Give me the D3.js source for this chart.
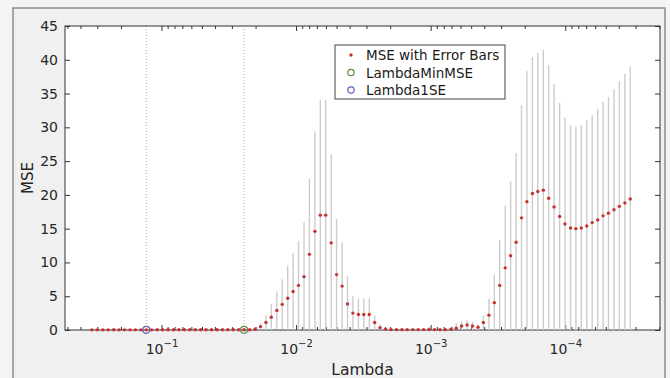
<!DOCTYPE html>
<html>
<head>
<meta charset="utf-8">
<title>Lasso cross-validated MSE</title>
<script src="https://d3js.org/d3.v7.min.js"></script>
<style>
  body { margin: 0; background: #f4f4f4; }
  svg { display: block; font-family: "DejaVu Sans", sans-serif; }
</style>
</head>
<body>
<svg id="chart" width="670" height="378"></svg>
<script>

// log10(lambda) for the 100 fitted lambdas, largest first
var lambdaExp = [
  -0.483,-0.523,-0.564,-0.604,-0.645,-0.685,-0.725,-0.766,-0.806,-0.847,
  -0.887,-0.927,-0.968,-1.008,-1.049,-1.089,-1.129,-1.170,-1.210,-1.251,
  -1.291,-1.331,-1.372,-1.412,-1.453,-1.493,-1.533,-1.574,-1.614,-1.655,
  -1.695,-1.736,-1.776,-1.816,-1.857,-1.897,-1.938,-1.978,-2.018,-2.059,
  -2.099,-2.140,-2.180,-2.220,-2.261,-2.301,-2.342,-2.382,-2.422,-2.463,
  -2.503,-2.544,-2.584,-2.624,-2.665,-2.705,-2.746,-2.786,-2.826,-2.867,
  -2.907,-2.948,-2.988,-3.028,-3.069,-3.109,-3.150,-3.190,-3.230,-3.271,
  -3.311,-3.352,-3.392,-3.433,-3.473,-3.513,-3.554,-3.594,-3.635,-3.675,
  -3.715,-3.756,-3.796,-3.837,-3.877,-3.917,-3.958,-3.998,-4.039,-4.079,
  -4.119,-4.160,-4.200,-4.241,-4.281,-4.321,-4.362,-4.402,-4.443,-4.483
];

var mseValues = [
  0.02,0.02,0.02,0.02,0.03,0.02,0.02,0.02,0.02,0.02,
  0.02,0.02,0.03,0.03,0.03,0.03,0.03,0.03,0.03,0.03,
  0.03,0.03,0.03,0.03,0.03,0.03,0.03,0.03,0.03,0.04,
  0.1,0.5,1.1,1.9,2.9,3.8,4.7,5.7,6.6,7.9,
  11.2,14.6,17.0,17.0,12.9,8.2,6.5,3.85,2.5,2.3,
  2.3,2.3,1.1,0.35,0.15,0.06,0.05,0.05,0.05,0.05,
  0.05,0.06,0.08,0.06,0.05,0.05,0.1,0.25,0.6,0.75,
  0.6,0.4,1.1,2.2,4.05,6.6,9.2,11.0,13.0,16.6,
  19.0,20.2,20.5,20.7,19.5,18.2,16.8,15.7,15.1,15.0,
  15.1,15.4,15.9,16.3,16.9,17.3,17.8,18.3,18.8,19.4
];

var seValues = [
  0.03,0.03,0.03,0.03,0.04,0.03,0.03,0.03,0.03,0.03,
  0.03,0.03,0.04,0.04,0.04,0.04,0.04,0.04,0.04,0.04,
  0.04,0.04,0.04,0.04,0.04,0.04,0.04,0.04,0.04,0.05,
  0.2,0.5,1.1,1.9,2.8,3.7,4.8,5.7,6.6,8.0,
  11.2,14.8,17.1,17.1,13.1,8.2,6.5,4.1,2.5,2.4,
  2.4,2.4,1.1,0.45,0.15,0.08,0.07,0.07,0.07,0.07,
  0.07,0.08,0.4,0.08,0.07,0.07,0.15,0.75,0.7,0.65,
  0.6,0.5,1.0,2.4,4.2,6.7,9.2,11.0,13.2,16.7,
  19.3,20.2,20.5,20.8,19.7,18.2,16.8,15.8,15.2,15.1,
  15.2,15.6,15.9,16.4,16.9,17.2,17.8,18.5,19.1,19.6
];

var minMseIndex = 28;   // LambdaMinMSE
var oneSeIndex = 10;    // Lambda1SE

var yTicks = [0, 5, 10, 15, 20, 25, 30, 35, 40, 45];
var xTickExps = [-1, -2, -3, -4];
var legendLabels = ["MSE with Error Bars", "LambdaMinMSE", "Lambda1SE"];

var redCol = "#c8312f", greenCol = "#5b8a4a", blueCol = "#6a5cb8", barCol = "#cccccc";

var svg = d3.select("#chart");
var pLeft = 65, pRight = 660, pTop = 26, pBottom = 330;

var x = d3.scaleLog().domain([Math.pow(10, -0.283), Math.pow(10, -4.704)]).range([pLeft, pRight]);
var y = d3.scaleLinear().domain([0, 45]).range([pBottom, pTop]);

var pts = lambdaExp.map(function(e, i) {
  return { lam: Math.pow(10, e), mse: mseValues[i], se: seValues[i] };
});

// figure frame
svg.append("rect").attr("x", 13).attr("y", 8).attr("width", 652).attr("height", 380)
  .attr("fill", "#f0f0f0").attr("stroke", "#8c8c8c").attr("stroke-width", 1.5);

// plot area
svg.append("rect").attr("x", pLeft).attr("y", pTop).attr("width", pRight - pLeft).attr("height", pBottom - pTop)
  .attr("fill", "#fff");

// minor log ticks
var minor = [];
for (var k = -5; k <= -1; k++) {
  for (var m = 2; m <= 9; m++) {
    var v = m * Math.pow(10, k);
    if (v < x.domain()[0] && v > x.domain()[1]) minor.push(v);
  }
}

function styleAxis(g) {
  g.select(".domain").remove();
  g.selectAll(".tick line").attr("stroke", "#333");
}

svg.append("g").attr("transform", "translate(0," + pBottom + ")")
  .call(d3.axisBottom(x).tickValues(minor).tickSizeInner(-3).tickSizeOuter(0).tickFormat(""))
  .call(styleAxis);
svg.append("g").attr("transform", "translate(0," + pTop + ")")
  .call(d3.axisTop(x).tickValues(minor).tickSizeInner(-3).tickSizeOuter(0).tickFormat(""))
  .call(styleAxis);

var xTicks = xTickExps.map(function(e) { return Math.pow(10, e); });

var gxb = svg.append("g").attr("transform", "translate(0," + pBottom + ")")
  .call(d3.axisBottom(x).tickValues(xTicks).tickSizeInner(-5).tickSizeOuter(0).tickFormat(""))
  .call(styleAxis);
svg.append("g").attr("transform", "translate(0," + pTop + ")")
  .call(d3.axisTop(x).tickValues(xTicks).tickSizeInner(-5).tickSizeOuter(0).tickFormat(""))
  .call(styleAxis);

gxb.selectAll(".tick text").each(function(d, i) {
  var t = d3.select(this).attr("y", 24).attr("dy", null)
    .attr("fill", "#262626").attr("font-size", 14).attr("font-family", "DejaVu Sans");
  t.append("tspan").text("10");
  t.append("tspan").attr("dy", -7).attr("font-size", 10).text("\u2212" + Math.abs(xTickExps[i]));
});

svg.append("g").attr("transform", "translate(" + pLeft + ",0)")
  .call(d3.axisLeft(y).tickValues(yTicks).tickSizeInner(-5).tickSizeOuter(0).tickPadding(7))
  .call(styleAxis)
  .call(function(g) {
    g.selectAll(".tick text").attr("fill", "#262626").attr("font-size", 14)
      .attr("font-family", "DejaVu Sans");
  });
svg.append("g").attr("transform", "translate(" + pRight + ",0)")
  .call(d3.axisRight(y).tickValues(yTicks).tickSizeInner(-5).tickSizeOuter(0).tickFormat(""))
  .call(styleAxis);

// axes box
svg.append("rect").attr("x", pLeft).attr("y", pTop).attr("width", pRight - pLeft).attr("height", pBottom - pTop)
  .attr("fill", "none").attr("stroke", "#333").attr("stroke-width", 1);

// error bars
svg.append("g").selectAll("line").data(pts).join("line")
  .attr("x1", function(d) { return x(d.lam); })
  .attr("x2", function(d) { return x(d.lam); })
  .attr("y1", function(d) { return y(Math.max(0, d.mse - d.se)); })
  .attr("y2", function(d) { return y(d.mse + d.se); })
  .attr("stroke", barCol).attr("stroke-width", 1.4);

// vertical reference lines
[[oneSeIndex, blueCol], [minMseIndex, greenCol]].forEach(function(p) {
  var xv = x(pts[p[0]].lam);
  svg.append("line").attr("x1", xv).attr("x2", xv).attr("y1", pBottom).attr("y2", pTop)
    .attr("stroke", p[1]).attr("stroke-opacity", 0.6).attr("stroke-width", 1)
    .attr("stroke-dasharray", "1,2");
});

// MSE points
svg.append("g").selectAll("circle").data(pts).join("circle")
  .attr("cx", function(d) { return x(d.lam); })
  .attr("cy", function(d) { return y(d.mse); })
  .attr("r", 1.7).attr("fill", redCol);

// lambda markers
[[minMseIndex, greenCol], [oneSeIndex, blueCol]].forEach(function(p) {
  var d = pts[p[0]];
  svg.append("circle").attr("cx", x(d.lam)).attr("cy", y(d.mse)).attr("r", 3.5)
    .attr("fill", "none").attr("stroke", p[1]).attr("stroke-width", 1.2);
});

// axis labels
svg.append("text").attr("x", (pLeft + pRight) / 2).attr("y", 375).attr("text-anchor", "middle")
  .attr("font-size", 15.5).attr("fill", "#262626").text("Lambda");
svg.append("text").attr("transform", "translate(33," + ((pTop + pBottom) / 2) + ") rotate(-90)")
  .attr("text-anchor", "middle").attr("font-size", 15).attr("fill", "#262626").text("MSE");

// legend
var lg = svg.append("g");
lg.append("rect").attr("x", 335).attr("y", 45).attr("width", 170).attr("height", 54)
  .attr("fill", "#fff").attr("stroke", "#444").attr("stroke-width", 1);
legendLabels.forEach(function(lbl, i) {
  var cy = 55 + i * 17.5;
  if (i === 0) {
    lg.append("circle").attr("cx", 351).attr("cy", cy).attr("r", 1.7).attr("fill", redCol);
  } else {
    lg.append("circle").attr("cx", 351).attr("cy", cy).attr("r", 3.2).attr("fill", "none")
      .attr("stroke", i === 1 ? greenCol : blueCol).attr("stroke-width", 1.2);
  }
  lg.append("text").attr("x", 366).attr("y", cy + 5).attr("font-size", 13.5)
    .attr("fill", "#1a1a1a").text(lbl);
});

</script>
</body>
</html>
